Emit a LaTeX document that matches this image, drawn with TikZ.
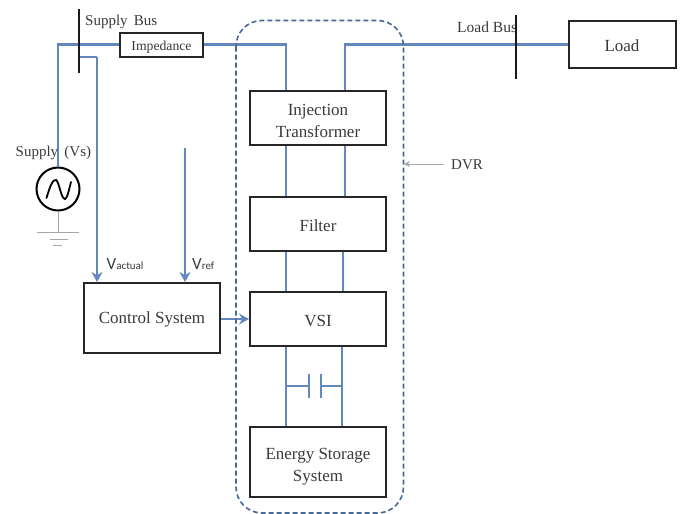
\documentclass[tikz,border=0pt]{standalone}
\usepackage{fontspec}
\setmainfont{Liberation Serif}
\newfontfamily\carl{Carlito}
\usetikzlibrary{arrows.meta}
\definecolor{wire}{HTML}{6388C0}
\definecolor{dvrc}{HTML}{47689A}
\definecolor{txt}{HTML}{3A3A3A}
\tikzset{
  x=1pt,y=-1pt,
  blk/.style={draw=black!85,line width=2pt,fill=white,text=txt,align=center,inner sep=0pt,font=\fontsize{17}{22}\selectfont,
    execute at begin node={\rule{0pt}{15pt}}},
  wr/.style={draw=wire,line width=2.4pt},
  arr/.style={wr,-{Stealth[length=10pt,width=11pt]}},
  bus/.style={draw=black!90,line width=2.4pt},
  lbl/.style={text=txt,inner sep=0pt,font=\fontsize{15}{18}\selectfont},
  gnd/.style={draw=black!35,line width=1pt}
}
\begin{document}
\begin{tikzpicture}
\useasboundingbox (0,0) rectangle (681,514);
% nodes
\node[blk,minimum width=83,minimum height=24,font=\fontsize{13.7}{16}\selectfont] (imp) at (161.5,44.5) {Impedance};
\node[blk,minimum width=136,minimum height=54] (inj) at (318,118) {\rule{0pt}{17pt}Injection\\Transformer};
\node[blk,minimum width=136,minimum height=54] (fil) at (318,224) {Filter};
\node[blk,minimum width=136,minimum height=54] (vsi) at (318,319) {VSI};
\node[blk,minimum width=136,minimum height=70] (ctl) at (152,318) {Control System};
\node[blk,minimum width=136,minimum height=70] (ess) at (318,462) {\rule{0pt}{21pt}Energy Storage\\System};
\node[blk,minimum width=107,minimum height=47] (load) at (622,44.5) {Load};
\node[circle,draw=black,line width=2pt,minimum size=43,inner sep=0pt] (src) at (58,189) {};
% coordinates
\coordinate (busAt) at (79,9);
\coordinate (busAb) at (79,73);
\coordinate (busBt) at (516,15);
\coordinate (busBb) at (516,79);
\coordinate (s1) at (58,44.5);
\coordinate (bs) at (79,44.5);
\coordinate (bm) at (79,57);
\coordinate (vt) at (97,57);
\coordinate (rt) at (185,148);
\coordinate (iL) at (286,44.5);
\coordinate (iR) at (345,44.5);
\coordinate (lb) at (516,44.5);
\coordinate (xM) at (343,0);
\coordinate (xN) at (342,0);
\coordinate (cy) at (0,386);
\coordinate (c1) at (309,386);
\coordinate (c2) at (321,386);
% labels under the bus bars
\node[lbl,anchor=west,font=\fontsize{15.5}{18}\selectfont] (loadbus) at (457,27) {Load Bus};
% wires
\draw[wr] (src.north) -- (s1) -- (bs);
\draw[wr] (bs) -- (imp.west);
\draw[wr] (imp.east) -- (iL) -- (iL |- inj.north);
\draw[wr] (iR |- inj.north) -- (iR) -- (lb) -- (load.west);
\draw[wr] (bm) -- (vt);
\draw[arr] (vt) -- (vt |- ctl.north);
\draw[arr] (rt) -- (rt |- ctl.north);
\draw[arr] (ctl.east |- vsi.west) -- (vsi.west);
\draw[wr] (iL |- inj.south) -- (iL |- fil.north);
\draw[wr] (iR |- inj.south) -- (iR |- fil.north);
\draw[wr] (iL |- fil.south) -- (iL |- vsi.north);
\draw[wr] (xM |- fil.south) -- (xM |- vsi.north);
\draw[wr] (iL |- vsi.south) -- (iL |- ess.north);
\draw[wr] (xN |- vsi.south) -- (xN |- ess.north);
\draw[wr] (iL |- cy) -- (c1);
\draw[wr] (xN |- cy) -- (c2);
\draw[wr] (309,373.5) -- (309,398);
\draw[wr] (321,373.5) -- (321,398);
% buses
\draw[bus] (busAt) -- (busAb);
\draw[bus] (busBt) -- (busBb);
% source symbol
\draw[black,line width=1.8pt,line cap=round] (46.5,198) .. controls (50,186) and (53,179) .. (56,180) .. controls (59,181) and (61,199) .. (65,199) .. controls (67,199) and (69,190) .. (71,182);
% ground
\draw[gnd] (src.south) -- (58,232);
\draw[gnd] (37,232) -- (79,232);
\draw[gnd] (50,239) -- (68,239);
\draw[gnd] (53,245) -- (62,245);
% DVR boundary
\draw[dvrc,line width=1.6pt,dash pattern=on 5pt off 3pt,rounded corners=26pt] (236,20.5) rectangle (403.5,513);
\coordinate (dvrA) at (444,164);
\coordinate (dvrB) at (404,164);
\draw[draw=black!35,line width=1pt,-{Stealth[length=6pt,width=6pt]}] (dvrA) -- (dvrB);
% labels
\node[lbl,anchor=west] (supbus) at (85,22) {Supply\, Bus};
\node[lbl,anchor=west] (sup) at (15.5,153) {Supply\, (Vs)};
\node[lbl,anchor=west] (dvr) at (451,165) {DVR};
\node[lbl,anchor=west,font=\carl\fontsize{17}{18}\selectfont] (vact) at (106.5,264) {V\fontsize{11}{12}\selectfont actual};
\node[lbl,anchor=west,font=\carl\fontsize{17}{18}\selectfont] (vref) at (192,264) {V\fontsize{11}{12}\selectfont ref};
\end{tikzpicture}
\end{document}
